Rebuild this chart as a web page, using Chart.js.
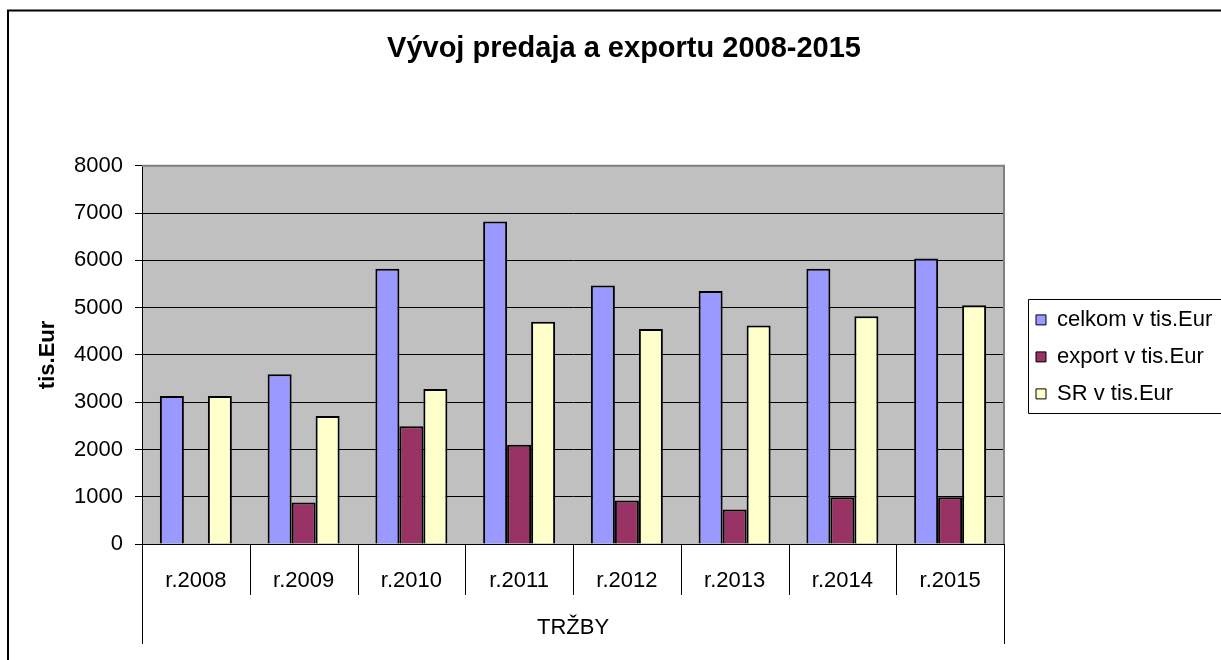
<!doctype html>
<html lang="sk">
<head>
<meta charset="UTF-8" />
<title>Vývoj predaja a exportu 2008-2015</title>
<script src="https://cdn.jsdelivr.net/npm/chart.js"></script>
<style>
  body { margin: 0; background: #fff; }
  canvas { display: block; }
</style>
</head>
<body>
<canvas id="trzbyChart" width="1221" height="660"></canvas>
<script>
  // values (tis. Eur)
  const years = ["r.2008", "r.2009", "r.2010", "r.2011", "r.2012", "r.2013", "r.2014", "r.2015"];
  const celkom = [3130, 3590, 5820, 6820, 5470, 5350, 5820, 6040];
  const exportVals = [0, 880, 2490, 2100, 920, 730, 990, 990];
  const sr = [3130, 2710, 3280, 4700, 4550, 4620, 4820, 5050];
  const groupLabel = "TRŽBY";

  Chart.defaults.font.family = '"Liberation Sans", Arial, sans-serif';
  Chart.defaults.font.size = 22;
  Chart.defaults.color = "#000";

  // plot background, frames and the two-level category axis
  const excelLook = {
    id: "excelLook",
    beforeLayout(chart) {
      // fixed legend column width so the plot ends where it does in Excel
      const lg = chart.legend;
      if (lg && !lg._fixedFit) {
        const fit = lg.fit.bind(lg);
        lg.fit = function () {
          fit();
          this.width = 217;
        };
        lg._fixedFit = true;
      }
    },
    beforeDraw(chart) {
      const { ctx, chartArea: a } = chart;
      ctx.save();
      ctx.fillStyle = "#fff";
      ctx.fillRect(0, 0, chart.width, chart.height);
      ctx.fillStyle = "#c0c0c0";
      ctx.fillRect(a.left, a.top, a.right - a.left, a.bottom - a.top);
      ctx.restore();
    },
    afterLayout(chart) {
      // move legend a bit off the plot, like the Excel original
      const lg = chart.legend;
      const dx = chart.chartArea.right + 17 - lg.left;
      lg.left += dx;
      lg.right += dx;
      lg.top += 2;
      lg.bottom += 2;
    },
    beforeDatasetsDraw(chart) {
      const { ctx, chartArea: a } = chart;
      ctx.save();
      ctx.strokeStyle = "#808080";
      ctx.lineWidth = 2;
      ctx.beginPath();
      ctx.moveTo(a.left, a.top);
      ctx.lineTo(a.right, a.top);
      ctx.lineTo(a.right, a.bottom);
      ctx.stroke();
      ctx.restore();
    },
    afterDraw(chart) {
      const { ctx, chartArea: a } = chart;
      const xs = chart.scales.x;
      ctx.save();
      ctx.strokeStyle = "#000";
      ctx.lineWidth = 1;
      ctx.beginPath();
      for (let i = 0; i <= years.length; i++) {
        const px = Math.round(xs.getPixelForValue(i - 0.5)) + 0.5;
        const edge = i === 0 || i === years.length;
        ctx.moveTo(px, a.bottom);
        ctx.lineTo(px, edge ? a.bottom + 100 : a.bottom + 51);
      }
      ctx.stroke();

      // legend frame
      const boxes = chart.legend.legendHitBoxes;
      const first = boxes[0];
      const last = boxes[boxes.length - 1];
      const top = Math.round(first.top - 10) + 0.5;
      const bottom = Math.round(last.top + last.height + 8) + 0.5;
      const left = Math.round(first.left - 8) + 0.5;
      ctx.beginPath();
      ctx.moveTo(chart.width + 5, top);
      ctx.lineTo(left, top);
      ctx.lineTo(left, bottom);
      ctx.lineTo(chart.width + 5, bottom);
      ctx.stroke();

      // outer chart border
      ctx.lineWidth = 2;
      ctx.beginPath();
      ctx.moveTo(8, chart.height + 5);
      ctx.lineTo(8, 10.5);
      ctx.lineTo(chart.width + 5, 10.5);
      ctx.stroke();
      ctx.restore();
    }
  };

  const ctx = document.getElementById("trzbyChart").getContext("2d");
  const trzbyChart = new Chart(ctx, {
    type: "bar",
    data: {
      labels: years,
      datasets: [
        { label: "celkom v tis.Eur", data: celkom, backgroundColor: "#9999ff" },
        { label: "export v tis.Eur", data: exportVals, backgroundColor: "#993366" },
        { label: "SR v tis.Eur", data: sr, backgroundColor: "#ffffcc" }
      ]
    },
    options: {
      responsive: false,
      animation: false,
      devicePixelRatio: 1,
      layout: { padding: { left: 27, right: 0, top: 0, bottom: 0 } },
      datasets: {
        bar: {
          borderColor: "#000",
          borderWidth: 2,
          categoryPercentage: 0.668,
          barPercentage: 1.0
        }
      },
      plugins: {
        title: {
          display: true,
          text: "Vývoj predaja a exportu 2008-2015",
          color: "#000",
          font: { size: 29, weight: "bold" },
          padding: { top: 32, bottom: 99 }
        },
        legend: {
          position: "right",
          fullSize: false,
          labels: {
            boxWidth: 10,
            boxHeight: 10,
            padding: 15,
            color: "#000",
            font: { size: 22 },
            generateLabels(chart) {
              return Chart.defaults.plugins.legend.labels.generateLabels(chart).map(item => {
                item.lineWidth = 1;
                item.strokeStyle = "#000";
                return item;
              });
            }
          }
        },
        tooltip: { enabled: false }
      },
      scales: {
        x: {
          grid: { display: false },
          border: { display: true, color: "#000", width: 1 },
          ticks: { padding: 16, autoSkip: false, maxRotation: 0, color: "#000" },
          title: {
            display: true,
            text: groupLabel,
            color: "#000",
            font: { size: 22 },
            padding: { top: 0, bottom: 19 }
          },
          afterFit(scale) {
            scale.height = 116;
          }
        },
        y: {
          min: 0,
          max: 8000,
          ticks: {
            stepSize: 1000,
            padding: 12,
            color: "#000",
            callback: value => String(value)
          },
          grid: {
            color: c => (c.tick && c.tick.value === 8000 ? "#808080" : "#000"),
            tickColor: "#000",
            tickLength: 7,
            lineWidth: 1
          },
          border: { color: "#000", width: 1 },
          title: {
            display: true,
            text: "tis.Eur",
            color: "#000",
            font: { size: 22, weight: "bold" },
            padding: { top: 8, bottom: 0 }
          },
          afterFit(scale) {
            scale.width = 115;
          }
        }
      }
    },
    plugins: [excelLook]
  });
</script>
</body>
</html>
